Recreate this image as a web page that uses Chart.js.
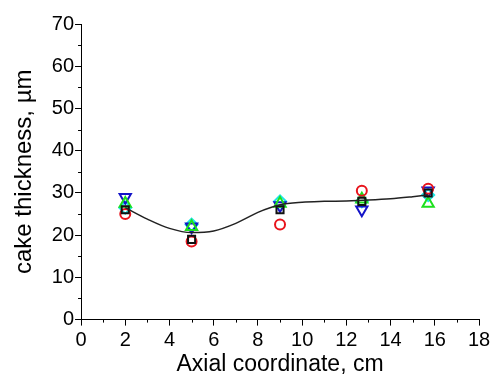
<!DOCTYPE html>
<html lang="en">
<head>
  <meta charset="UTF-8">
  <title>Cake thickness</title>
  <script src="https://cdn.jsdelivr.net/npm/chart.js"></script>
  <style>
    body { margin: 0; background: #fff; }
  </style>
</head>
<body>
  <canvas id="cakeChart" width="495" height="376"></canvas>

  <script>
    // axial positions of the measurements (cm)
    const positions = [2, 5, 9, 12.7, 15.7];

    // measured cake thickness (um), one array per run
    const squares   = [26, 19, 26, 28, 30];
    const circles   = [25, 18.5, 22.5, 30.5, 31];
    const upTri     = [27.5, 22, 27.5, 28.5, 27.5];
    const downTri   = [29, 22, 27, 26, 30.5];
    const diamonds  = [26.5, 22.5, 28, 28, 29.5];

    // smooth fit line
    const fitX = [2, 3, 4, 5, 6, 7, 8, 9, 10, 11, 12, 13, 14, 15, 15.7];
    const fitY = [26.5, 23.8, 21.6, 20.6, 21.0, 22.8, 25.4, 27.2, 27.8, 28.0, 28.1, 28.3, 28.6, 29.1, 29.5];

    const toPoints = (xs, ys) => xs.map((x, i) => ({ x, y: ys[i] }));

    // short minor ticks between the labelled ones
    const minorTicks = {
      id: 'minorTicks',
      afterDraw(chart) {
        const ctx = chart.ctx;
        const xs = chart.scales.x, ys = chart.scales.y;
        ctx.save();
        ctx.strokeStyle = '#000';
        ctx.lineWidth = 1;
        ctx.beginPath();
        for (let v = 1; v < 18; v += 2) {
          const px = Math.round(xs.getPixelForValue(v)) + 0.5;
          ctx.moveTo(px, ys.bottom);
          ctx.lineTo(px, ys.bottom + 3);
        }
        for (let v = 5; v < 70; v += 10) {
          const py = Math.round(ys.getPixelForValue(v)) + 0.5;
          ctx.moveTo(xs.left, py);
          ctx.lineTo(xs.left - 3, py);
        }
        ctx.stroke();
        ctx.restore();
      }
    };

    const marker = (label, data, color, style, extra) => Object.assign({
      type: 'scatter',
      label,
      data: toPoints(positions, data),
      borderColor: color,
      backgroundColor: 'rgba(0,0,0,0)',
      pointStyle: style,
      pointRadius: 5.5,
      pointBorderWidth: 2,
      showLine: false
    }, extra || {});

    const ctx = document.getElementById('cakeChart').getContext('2d');
    new Chart(ctx, {
      data: {
        datasets: [
          {
            type: 'line',
            label: 'fit',
            data: toPoints(fitX, fitY),
            borderColor: '#222',
            borderWidth: 1.5,
            pointRadius: 0,
            cubicInterpolationMode: 'monotone',
            fill: false
          },
          marker('squares', squares, '#111', 'rect', { pointRadius: 5 }),
          marker('circles', circles, '#e8141c', 'circle', { pointRadius: 5 }),
          marker('up', upTri, '#1ee01e', 'triangle', { pointRadius: 6.5 }),
          marker('down', downTri, '#1414c8', 'triangle', { pointRadius: 6.5, rotation: 180 }),
          marker('diamonds', diamonds, '#1ee6e6', 'rectRot', { pointRadius: 6 })
        ]
      },
      options: {
        responsive: false,
        animation: false,
        layout: { padding: { top: 24, right: 16, left: 10, bottom: 2 } },
        plugins: {
          legend: { display: false },
          tooltip: { enabled: false }
        },
        scales: {
          x: {
            type: 'linear',
            min: 0,
            max: 18,
            ticks: {
              stepSize: 2,
              color: '#000',
              font: { family: 'Liberation Sans', size: 20 },
              padding: 3,
              maxRotation: 0
            },
            grid: { drawOnChartArea: false, tickLength: 6, color: '#000' },
            border: { color: '#000', width: 1 },
            title: {
              display: true,
              text: 'Axial coordinate, cm',
              color: '#000',
              font: { family: 'Liberation Sans', size: 23, lineHeight: 0.8 },
              padding: { top: 0, bottom: 0 }
            }
          },
          y: {
            min: 0,
            max: 70,
            ticks: {
              stepSize: 10,
              color: '#000',
              font: { family: 'Liberation Sans', size: 20 },
              padding: 1
            },
            grid: { drawOnChartArea: false, tickLength: 6, color: '#000' },
            border: { color: '#000', width: 1 },
            title: {
              display: true,
              text: 'cake thickness, µm',
              color: '#000',
              font: { family: 'Liberation Sans', size: 24 },
              padding: { top: 0, bottom: 12 }
            }
          }
        }
      },
      plugins: [minorTicks]
    });
  </script>
</body>
</html>
